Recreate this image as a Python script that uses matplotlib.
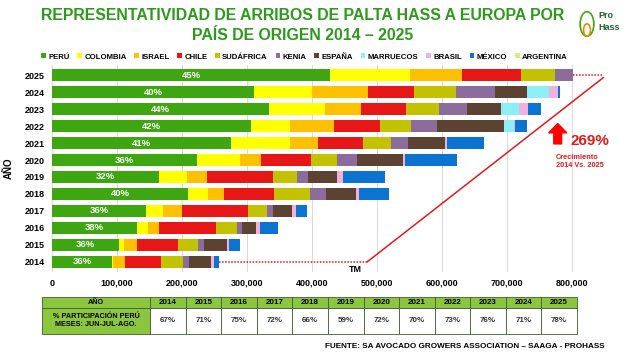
import numpy as np
import matplotlib.pyplot as plt
from matplotlib.patches import Ellipse

plt.rcParams['font.family'] = ['Liberation Sans', 'DejaVu Sans']

years = ['2014', '2015', '2016', '2017', '2018', '2019',
         '2020', '2021', '2022', '2023', '2024', '2025']

# toneladas (miles)
peru      = [92, 103, 131, 145, 209, 165, 223, 275, 306, 334, 311, 428]
colombia  = [2, 8, 17, 26, 31, 43, 66, 91, 60, 86, 89, 122]
israel    = [18, 20, 17, 29, 25, 31, 32, 43, 68, 55, 86, 80]
chile     = [55, 63, 88, 102, 77, 101, 77, 69, 71, 69, 71, 92]
sudafrica = [34, 31, 31, 29, 55, 37, 40, 43, 48, 52, 65, 52]
kenia     = [9, 9, 8, 9, 25, 17, 31, 26, 40, 43, 60, 28]
espana    = [34, 35, 22, 29, 45, 45, 71, 58, 103, 52, 49, 0]
marruecos = [0, 0, 0, 0, 0, 0, 0, 0, 14, 28, 34, 0]
brasil    = [5, 3, 6, 6, 6, 9, 3, 3, 3, 14, 14, 0]
mexico    = [8, 17, 28, 18, 45, 65, 80, 57, 18, 20, 3, 0]
argentina = [0, 0, 0, 0, 0, 0, 0, 0, 0, 0, 0, 0]

peru_labels = ['36%', '36%', '38%', '36%', '40%', '32%',
               '36%', '41%', '42%', '44%', '40%', '45%']
jja_share = ['67%', '71%', '75%', '72%', '66%', '59%',
             '72%', '70%', '73%', '76%', '71%', '78%']

countries = ['PERÚ', 'COLOMBIA', 'ISRAEL', 'CHILE', 'SUDÁFRICA', 'KENIA',
             'ESPAÑA', 'MARRUECOS', 'BRASIL', 'MÉXICO', 'ARGENTINA']
series = [peru, colombia, israel, chile, sudafrica, kenia,
          espana, marruecos, brasil, mexico, argentina]
colors = ['#3DA610', '#FFFF00', '#FFC000', '#E81717', '#C2C200', '#8C6C9C',
          '#5C4230', '#8CEFF5', '#F4B0DC', '#0A74D0', '#CCF57A']

RED = '#E01A1A'

fig = plt.figure(figsize=(6.25, 3.52), dpi=100)
ax = fig.add_axes([52 / 625, 1 - 272 / 352, 533 / 625, 207 / 352])

y = np.arange(len(years))
left = np.zeros(len(years))
handles = []
for name, vals, c in zip(countries, series, colors):
    v = np.array(vals) * 1000
    h = ax.barh(y, v, left=left, height=0.7, color=c, label=name, zorder=2)
    handles.append(h)
    left += v

for i, lab in enumerate(peru_labels):
    ax.text(peru[i] * 1000 / 2, y[i], lab, color='white', fontsize=6.8,
            fontweight='bold', ha='center', va='center', zorder=3)

ax.set_xlim(0, 820000)
ax.set_ylim(-0.6, 11.6)
ax.set_xticks(np.arange(0, 800001, 100000))
ax.set_xticklabels(['0' if t == 0 else f'{t:,}' for t in range(0, 800001, 100000)],
                   fontsize=6.5, fontweight='bold')
ax.set_yticks(y)
ax.set_yticklabels(years, fontsize=6.5, fontweight='bold')
ax.tick_params(length=0, pad=5)
ax.grid(axis='x', color='#D9D9D9', linewidth=0.7, zorder=0)
for s in ax.spines.values():
    s.set_visible(False)
ax.set_ylabel('AÑO', fontsize=7, fontweight='bold', labelpad=8)

# crecimiento
ax.plot([left[0], 485000], [0, 0], linestyle=(0, (1, 1)), color=RED,
        linewidth=1.1, clip_on=False, zorder=4)
ax.plot([485000, 848000], [0, 10.85], color=RED, linewidth=1.1,
        clip_on=False, zorder=4)
ax.plot([left[-1], 848000], [11, 11], linestyle=(0, (1, 1)), color=RED,
        linewidth=1.1, clip_on=False, zorder=4)
ax.arrow(778000, 6.95, 0, 1.2, width=12000, head_width=28000,
         head_length=0.55, length_includes_head=True, color='#FF0000',
         clip_on=False, zorder=4)
ax.text(797000, 7.15, '269%', color=RED, fontsize=11, fontweight='bold',
        ha='left', va='center')
ax.text(775000, 5.9, 'Crecimiento\n2014 Vs. 2025', color=RED, fontsize=5.3,
        fontweight='bold', ha='left', va='center', linespacing=1.3)
ax.text(466000, -0.48, 'TM', fontsize=6.5, fontweight='bold',
        ha='center', va='center')

fig.legend(handles=handles, loc='center', bbox_to_anchor=(0.487, 1 - 57 / 352),
           ncol=11, frameon=False, prop={'size': 5.6, 'weight': 'bold'},
           handlelength=0.6, handleheight=0.6, handletextpad=0.3,
           columnspacing=1.0, borderpad=0)

fig.text(0.484, 1 - 15 / 352, 'REPRESENTATIVIDAD DE ARRIBOS DE PALTA HASS A EUROPA POR',
         ha='center', va='center', fontsize=11.4, fontweight='bold',
         color='#2E9A1C')
fig.text(0.484, 1 - 35 / 352, 'PAÍS DE ORIGEN 2014 – 2025',
         ha='center', va='center', fontsize=11.4, fontweight='bold',
         color='#2E9A1C')

# logo
fig.patches.append(Ellipse((587 / 625, 1 - 24 / 352), 0.022, 0.07,
                           transform=fig.transFigure, fill=False,
                           edgecolor='#3DA610', linewidth=1.2))
fig.patches.append(Ellipse((587 / 625, 1 - 30 / 352), 0.011, 0.035,
                           transform=fig.transFigure, fill=False,
                           edgecolor='#F08A00', linewidth=1.2))
fig.text(598 / 625, 1 - 16 / 352, 'Pro', fontsize=6.5, fontweight='bold',
         color='#1F5F2A', ha='left', va='center')
fig.text(598 / 625, 1 - 27 / 352, 'Hass', fontsize=6.5, fontweight='bold',
         color='#1F5F2A', ha='left', va='center')

# tabla
ax_t = fig.add_axes([42 / 625, 1 - 334 / 352, 535 / 625, 37 / 352])
ax_t.axis('off')
cells = [['AÑO'] + years,
         ['% PARTICIPACIÓN PERÚ\nMESES: JUN-JUL-AGO.'] + jja_share]
col_w = [108] + [427 / 12] * 12
tbl = ax_t.table(cellText=cells, colWidths=col_w, cellLoc='center',
                 bbox=[0, 0, 1, 1])
tbl.auto_set_font_size(False)
for (r, c), cell in tbl.get_celld().items():
    cell.set_edgecolor('#3F5F2F')
    cell.set_linewidth(0.6)
    cell.set_height(11 if r == 0 else 26)
    txt = cell.get_text()
    txt.set_fontsize(5.2 if c == 0 else 5.8)
    txt.set_fontweight('bold')
    if r == 0 or c == 0:
        cell.set_facecolor('#8CC63E')
    else:
        cell.set_facecolor('white')
        txt.set_color('#333333')

fig.text(605 / 625, 1 - 346 / 352,
         'FUENTE: SA AVOCADO GROWERS ASSOCIATION – SAAGA - PROHASS',
         ha='right', va='center', fontsize=5.9, fontweight='bold')

fig.savefig('out.png', dpi=100)
